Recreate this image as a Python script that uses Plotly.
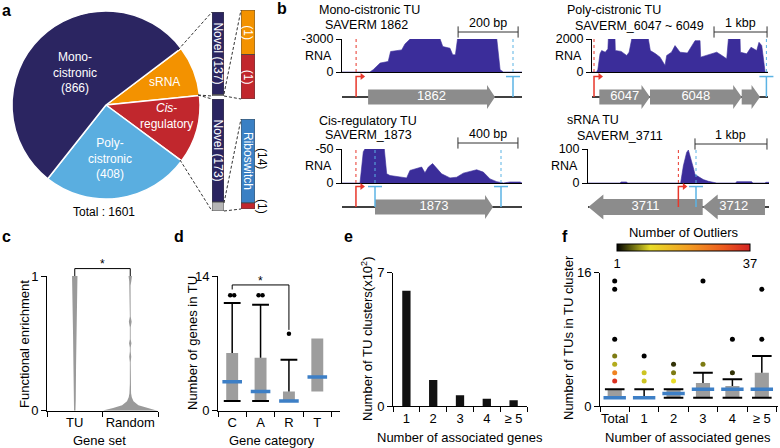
import plotly.graph_objects as go

W, H = 780, 448
FONT = "Liberation Sans, Arial, sans-serif"

NAVY = "#2b2561"
ORANGE = "#f39200"
RED = "#c1272d"
LBLUE = "#5aaee0"
RIBO = "#3a80c4"
LGREY = "#b5b5b5"
COV = "#3b2d9a"
TSS_C = "#e8372b"
TTS_C = "#5bb3e4"
GENE_C = "#8c8c8c"
BOX_C = "#9d9d9d"
MED_C = "#3d7fc6"
VIO_C = "#9a9a9a"

# ======================= DATA =======================
# panel a
pie_labels = ["sRNA", "Cis-regulatory", "Poly-cistronic", "Mono-cistronic"]
pie_values = [139, 188, 408, 866]
srna_split = [137, 2]
srna_annot = [1, 1]
cis_split = [173, 15]
cis_annot = [14, 1]

# panel b : coverage profiles (bp, reads)
b1_title = ["Mono-cistronic TU", "SAVERM 1862"]
b1_span, b1_top = 600, -3000
b1_pos = [0, 93, 104, 127, 154, 162, 199, 210, 227, 327, 336, 360, 369, 378, 385, 516, 527, 538, 600]
b1_cov = [0, 0, -210, -810, -960, -1860, -2010, -2550, -3000, -3000, -2310, -2160, -1560, -1560, -3000, -3000, -210, 0, 0]
b1_tss, b1_tts = 47, [570]
b1_gene_start, b1_gene_end, b1_gene_name = [87], [510], ["1862"]
b1_scalebar = [387, 200, "200 bp"]

b2_title = ["Poly-cistronic TU", "SAVERM_6047 ~ 6049"]
b2_span, b2_top = 3320, 2000
b2_pos = [0, 88, 110, 151, 182, 250, 300, 308, 434, 440, 550, 654, 700, 749, 1063, 1100, 1200, 1283, 1378, 1409,
          1500, 1566, 1661, 1800, 1944, 2038, 2050, 2164, 2250, 2353, 2450, 2541, 2573, 2793, 2800, 2919, 3000, 3107,
          3150, 3202, 3250, 3265, 3320]
b2_cov = [0, 0, 150, 1100, 1300, 1200, 1400, 2000, 2000, 1300, 1250, 1000, 1200, 2000, 2000, 1300, 1100, 900, 400, 1000,
          1200, 1600, 1200, 1150, 1900, 1900, 900, 1000, 1100, 1200, 1000, 800, 2000, 2000, 1200, 1100, 1500, 1300,
          1800, 1600, 400, 0, 0]
b2_tss, b2_tts = 38, [3290]
b2_gene_start, b2_gene_end, b2_gene_name = [138, 1094, 2824], [1094, 2824, 3170], ["6047", "6048", ""]
b2_scalebar = [2302, 1000, "1 kbp"]

b3_title = ["Cis-regulatory TU", "SAVERM_1873"]
b3_span, b3_top = 1200, -50
b3_pos = [0, 120, 142, 153, 282, 298, 320, 364, 431, 453, 487, 531, 553, 576, 604, 631, 664, 720, 764, 809, 853, 898,
          942, 987, 1031, 1076, 1120, 1187, 1200]
b3_cov = [0, 0, -46, -50, -50, -13.5, -11, -9.5, -7.5, -18.5, -21, -23.5, -15, -23.5, -28.5, -21, -13.5, -7.5, -8.5,
          -14.5, -17.5, -19.5, -16, -6, -2, 0, -1.5, -1.5, 0]
b3_tss, b3_tts = 93, [220, 1060]
b3_gene_start, b3_gene_end, b3_gene_name = [220], [1007], ["1873"]
b3_scalebar = [773, 400, "400 bp"]

b4_title = ["sRNA TU", "SAVERM_3711"]
b4_span, b4_top = 2514, 100
b4_pos = [0, 28, 40, 74, 90, 444, 460, 537, 550, 1287, 1324, 1370, 1394, 1426, 1463, 1486, 1532, 1602, 1671, 1741,
          1787, 2050, 2065, 2273, 2290, 2459, 2470, 2514]
b4_cov = [0, 0, 2, 2, 0, 0, 3, 3, 0, 0, 50, 90, 97, 75, 45, 25, 18, 10, 5, 3, 0, 0, 4, 4, 0, 0, 2, 2]
b4_tss, b4_tts = 1255, [1500]
b4_gene_start, b4_gene_end, b4_gene_name = [1593, 2458], [5, 1593], ["3711", "3712"]
b4_scalebar = [1486, 1000, "1 kbp"]

# panel c : violin density profiles
c_sets = ["TU", "Random"]
tu_levels = [0, 0.08, 0.33, 0.57, 0.82, 1.0]
tu_density = [0.026, 0.037, 0.048, 0.063, 0.081, 0.10]
rand_levels = [0, 0.005, 0.02, 0.04, 0.07, 0.1, 0.13, 0.2, 0.36, 0.4, 0.44, 0.47, 0.5, 0.53, 0.62, 0.66, 0.7, 0.93,
               0.96, 1.0]
rand_density = [1.0, 0.93, 0.63, 0.3, 0.12, 0.056, 0.03, 0.015, 0.015, 0.037, 0.015, 0.015, 0.044, 0.015, 0.015,
                0.052, 0.015, 0.011, 0.037, 0.063]

# panel d : box stats
d_cats = ["C", "A", "R", "T"]
d_q1 = [1, 1, 1, 2]
d_med = [3, 2, 1, 3.5]
d_q3 = [6, 5.5, 2, 7.5]
d_lower = [1, 1, 1, None]
d_upper = [11.2, 11, 5.3, None]
d_out_cat = [0, 0, 1, 1, 2]
d_out_val = [12, 12, 12, 12, 8]

# panel e
e_cats = ["1", "2", "3", "4", "≥ 5"]
e_vals = [6.05, 1.36, 0.56, 0.38, 0.30]

# panel f
f_cats = ["Total", "1", "2", "3", "4", "≥ 5"]
f_q1 = [1, 1, 1, 1, 1, 1]
f_med = [1, 1, 1.5, 2, 2, 2]
f_q3 = [2, 1, 2, 2.75, 2.4, 4]
f_lower = [1, 1, 1, 1, 1, 1]
f_upper = [2, 2, 2, 4, 3.2, 6]
f_out_cat = [0, 0, 0, 0, 0, 0, 0, 1, 1, 1, 2, 2, 2, 3, 3, 4, 4, 5, 5]
f_out_val = [15, 14, 8, 6, 5, 4, 3, 6, 4, 3, 5, 4, 3, 15, 5, 8, 4, 14, 8]
f_out_cnt = [1, 1, 1, 6, 8, 24, 35, 1, 9, 9, 3, 6, 10, 1, 6, 1, 3, 1, 1]
OUT_SCALE = [[0, "#000000"], [0.12, "#6b6b10"], [0.25, "#e8dc28"], [0.55, "#f29a22"], [0.8, "#ec5a1e"],
             [1, "#d42323"]]

# ======================= FIGURE =======================
fig = go.Figure()
axes, ann, shapes = {}, [], []
_n = [0]


def PX(p):
    return p / W


def PY(p):
    return 1 - p / H


BASE_AX = dict(showgrid=False, zeroline=False, showline=False, ticks="", showticklabels=False,
               fixedrange=True, linecolor="black", linewidth=1, tickcolor="black", tickwidth=1,
               ticklen=5, tickfont=dict(family=FONT, size=13, color="black"))


def new_axes(x0, x1, yt, yb, xo=None, yo=None):
    _n[0] += 1
    s = "" if _n[0] == 1 else str(_n[0])
    xa = dict(BASE_AX, domain=[PX(x0), PX(x1)], anchor="y" + s)
    ya = dict(BASE_AX, domain=[PY(yb), PY(yt)], anchor="x" + s)
    xa.update(xo or {})
    ya.update(yo or {})
    axes["xaxis" + s] = xa
    axes["yaxis" + s] = ya
    return "x" + s, "y" + s


def label(x, y, text, size=13, color="black", xref="paper", yref="paper", xanchor="center",
          yanchor="middle", angle=0, xshift=0, yshift=0):
    if xref == "paper":
        x = PX(x)
    if yref == "paper":
        y = PY(y)
    ann.append(dict(x=x, y=y, xref=xref, yref=yref, text=text, showarrow=False,
                    font=dict(family=FONT, size=size, color=color), xanchor=xanchor,
                    yanchor=yanchor, textangle=angle, xshift=xshift, yshift=yshift))


def dline(x0, y0, x1, y1):
    shapes.append(dict(type="line", xref="paper", yref="paper", x0=PX(x0), y0=PY(y0), x1=PX(x1), y1=PY(y1),
                       line=dict(color="#333", width=1, dash="3px,2px")))


# ---------- panel labels ----------
for t, x, y in [("a", 6, 10), ("b", 282, 9), ("c", 6, 237), ("d", 179, 237), ("e", 348, 236), ("f", 565, 236)]:
    label(x, y, f"<b>{t}</b>", 16)

# ---------- panel a ----------
fig.add_trace(go.Pie(values=pie_values, labels=pie_labels, sort=False, direction="clockwise", rotation=53,
                     marker=dict(colors=[ORANGE, RED, LBLUE, NAVY], line=dict(color="white", width=1.5)),
                     textinfo="none", hoverinfo="label+value",
                     domain=dict(x=[PX(12), PX(200)], y=[PY(199), PY(11)])))
label(75, 72, f"Mono-<br>cistronic<br>({pie_values[3]})", 12, "white")
label(164, 82, "sRNA", 12, "white")
label(166, 116, "<i>Cis</i>-<br>regulatory", 12, "white")
label(110, 158, f"Poly-<br>cistronic<br>({pie_values[2]})", 12, "white")
label(104, 212, f"Total : {sum(pie_values)}", 12)


def stacked_bar(x0, x1, yt, yb, parts, colors):
    xa, ya = new_axes(x0, x1, yt, yb, xo=dict(range=[-0.5, 0.5]), yo=dict(range=[sum(parts), 0]))
    base = 0
    for v, c in zip(parts, colors):
        fig.add_trace(go.Bar(x=[0], y=[v], base=[base], width=1,
                             marker=dict(color=c, line=dict(color="#444", width=0.8)),
                             xaxis=xa, yaxis=ya, hoverinfo="y"))
        base += v
    return xa, ya


xa1, ya1 = stacked_bar(212, 224, 12, 96, srna_split, [NAVY, LGREY])
label(0, srna_split[0] / 2, f"Novel ({srna_split[0]})", 12, "white", xa1, ya1, angle=90)
xa2, ya2 = stacked_bar(212, 224, 99, 211, cis_split, [NAVY, LGREY])
label(0, cis_split[0] / 2, f"Novel ({cis_split[0]})", 12, "white", xa2, ya2, angle=90)
xa3, ya3 = stacked_bar(241, 255, 10, 99, srna_annot, [ORANGE, RED])
label(0, srna_annot[0] / 2, f"({srna_annot[0]})", 12, "white", xa3, ya3, angle=90)
label(0, srna_annot[0] + srna_annot[1] / 2, f"({srna_annot[1]})", 12, "white", xa3, ya3, angle=90)
xa4, ya4 = stacked_bar(241, 255, 119, 209, cis_annot, [RIBO, RED])
label(0, cis_annot[0] / 2, "Riboswitch", 12, "white", xa4, ya4, angle=90)
label(0.5, cis_annot[0] / 2 - 0.5, f"({cis_annot[0]})", 12, "black", xa4, ya4, angle=90, xshift=7)
label(0.5, cis_annot[0] + cis_annot[1] / 2, f"({cis_annot[1]})", 12, "black", xa4, ya4, angle=90, xshift=7)

for seg in [(178, 50, 212, 12), (198, 95, 212, 96), (198, 95, 212, 99), (180, 160, 212, 211),
            (224, 94, 241, 10), (224, 96, 241, 99), (224, 203, 241, 119), (224, 211, 241, 209)]:
    dline(*seg)

# ---------- panel b ----------
tracks = [
    dict(pos=b1_pos, cov=b1_cov, span=b1_span, top=b1_top, tss=b1_tss, tts=b1_tts, gs=b1_gene_start,
         ge=b1_gene_end, gn=b1_gene_name, sb=b1_scalebar, title=b1_title,
         L=dict(x0=342, x1=522, yt=39, yb=72, base=97, t1=(317, 10), t2=(323, 25), sby=32, body=15, head=24, hl=8)),
    dict(pos=b2_pos, cov=b2_cov, span=b2_span, top=b2_top, tss=b2_tss, tts=b2_tts, gs=b2_gene_start,
         ge=b2_gene_end, gn=b2_gene_name, sb=b2_scalebar, title=b2_title,
         L=dict(x0=592, x1=768, yt=39, yb=72, base=97, t1=(565, 10), t2=(573, 26), sby=32, body=15, head=24, hl=8.5)),
    dict(pos=b3_pos, cov=b3_cov, span=b3_span, top=b3_top, tss=b3_tss, tts=b3_tts, gs=b3_gene_start,
         ge=b3_gene_end, gn=b3_gene_name, sb=b3_scalebar, title=b3_title,
         L=dict(x0=342, x1=522, yt=149, yb=183, base=207, t1=(317, 121), t2=(323, 135), sby=143, body=15, head=24,
                hl=8)),
    dict(pos=b4_pos, cov=b4_cov, span=b4_span, top=b4_top, tss=b4_tss, tts=b4_tts, gs=b4_gene_start,
         ge=b4_gene_end, gn=b4_gene_name, sb=b4_scalebar, title=b4_title,
         L=dict(x0=588, x1=769, yt=149, yb=183, base=207, t1=(565, 120), t2=(575, 136), sby=144, body=16, head=25,
                hl=15)),
]


def gene_poly(s, e, hl, bh, hh):
    d = 1 if e > s else -1
    hb = e - d * hl
    return [s, hb, hb, e, hb, hb, s, s], [-bh, -bh, -hh, 0, hh, bh, bh, -bh]


for T in tracks:
    L = T["L"]
    top = T["top"]
    xa, ya = new_axes(L["x0"], L["x1"], L["yt"], L["yb"],
                      xo=dict(range=[0, T["span"]], showline=True),
                      yo=dict(range=[0, top], showline=True, ticks="outside", showticklabels=True,
                              tickvals=[0, top], ticktext=["0", str(top)],
                              tickfont=dict(family=FONT, size=12.5, color="black")))
    fig.add_trace(go.Scatter(x=T["pos"], y=T["cov"], mode="lines", fill="tozeroy",
                             line=dict(color=COV, width=0.6), fillcolor=COV, xaxis=xa, yaxis=ya, hoverinfo="skip"))
    fig.add_trace(go.Scatter(x=[T["tss"], T["tss"]], y=[0, top], mode="lines",
                             line=dict(color=TSS_C, width=1, dash="dot"), xaxis=xa, yaxis=ya, hoverinfo="skip"))
    tx, ty = [], []
    for t in T["tts"]:
        tx += [t, t, None]
        ty += [0, top, None]
    fig.add_trace(go.Scatter(x=tx, y=ty, mode="lines", line=dict(color=TTS_C, width=1, dash="dot"),
                             xaxis=xa, yaxis=ya, hoverinfo="skip"))
    # scale bar in its own thin strip of axes
    s0, slen, stxt = T["sb"]
    xs_, ys_ = new_axes(L["x0"], L["x1"], L["sby"] - 6, L["sby"] + 6,
                        xo=dict(range=[0, T["span"]]), yo=dict(range=[-1, 1]))
    fig.add_trace(go.Scatter(x=[s0, s0 + slen], y=[0, 0], mode="lines+markers",
                             line=dict(color="#333", width=1),
                             marker=dict(symbol="line-ns", size=8, line=dict(color="#333", width=1)),
                             cliponaxis=False, xaxis=xs_, yaxis=ys_, hoverinfo="skip"))
    label(s0 + slen / 2, L["sby"] - 9, stxt, 12.5, xref=xs_)
    label(L["t1"][0], L["t1"][1], T["title"][0], 12.5, xanchor="left")
    label(L["t2"][0], L["t2"][1], T["title"][1], 12.5, xanchor="left")
    label(L["x0"] - 8, (L["yt"] + L["yb"]) / 2, "RNA", 12.5, xanchor="right")

    g = 22
    xg, yg = new_axes(L["x0"], L["x1"], L["base"] - g, L["base"] + g,
                      xo=dict(range=[0, T["span"]]), yo=dict(range=[-1, 1]))
    bpp = T["span"] / (L["x1"] - L["x0"])
    fig.add_trace(go.Scatter(x=[0, T["span"]], y=[0, 0], mode="lines", line=dict(color="black", width=1.5),
                             xaxis=xg, yaxis=yg, hoverinfo="skip"))
    gx, gy = [], []
    for s, e in zip(T["gs"], T["ge"]):
        xs, ys = gene_poly(s, e, L["hl"] * bpp, L["body"] / 2 / g, L["head"] / 2 / g)
        gx += xs + [None]
        gy += ys + [None]
    fig.add_trace(go.Scatter(x=gx, y=gy, mode="lines", fill="toself", fillcolor=GENE_C,
                             line=dict(width=0, color=GENE_C), xaxis=xg, yaxis=yg, hoverinfo="skip"))
    named = [(s, e, n) for s, e, n in zip(T["gs"], T["ge"], T["gn"]) if n]
    fig.add_trace(go.Scatter(x=[(s + e) / 2 for s, e, n in named], y=[0] * len(named),
                             mode="text", text=[n for s, e, n in named],
                             textfont=dict(family=FONT, size=13, color="white"),
                             xaxis=xg, yaxis=yg, hoverinfo="skip"))
    v = 0.93
    arm = 6 * bpp
    tss = T["tss"]
    fig.add_trace(go.Scatter(x=[tss, tss, tss + arm], y=[0, v, v], mode="lines",
                             line=dict(color=TSS_C, width=1.5), xaxis=xg, yaxis=yg, hoverinfo="skip",
                             cliponaxis=False))
    fig.add_trace(go.Scatter(x=[tss + arm], y=[v], mode="markers",
                             marker=dict(symbol="triangle-right", size=6, color=TSS_C),
                             xaxis=xg, yaxis=yg, hoverinfo="skip", cliponaxis=False))
    kx, ky = [], []
    for t in T["tts"]:
        kx += [t, t, None]
        ky += [0, v, None]
    fig.add_trace(go.Scatter(x=kx, y=ky, mode="lines", line=dict(color=TTS_C, width=1.5),
                             xaxis=xg, yaxis=yg, hoverinfo="skip", cliponaxis=False))
    fig.add_trace(go.Scatter(x=T["tts"], y=[v] * len(T["tts"]), mode="markers",
                             marker=dict(symbol="line-ew", size=10, line=dict(color=TTS_C, width=1.5)),
                             xaxis=xg, yaxis=yg, hoverinfo="skip", cliponaxis=False))

# ---------- shared helpers for c-f ----------
MINOR = dict(ticks="outside", ticklen=5, tickcolor="black", tickwidth=1, tick0=-0.5, dtick=1)


def cat_x(rng, cats):
    return dict(range=rng, showline=True, showticklabels=True, tickmode="array",
                tickvals=list(range(len(cats))), ticktext=cats, minor=MINOR)


def val_y(rng, vals):
    return dict(range=rng, showline=True, ticks="outside", showticklabels=True, tickmode="array", tickvals=vals)


def bracket_axes(x0, x1, yt, yb, xrng, ymax, top_px):
    # invisible overlay axes sharing the value scale, extended upward to top_px
    ext = ymax * (yb - top_px) / (yb - yt)
    return new_axes(x0, x1, top_px, yb, xo=dict(range=xrng), yo=dict(range=[0, ext]))


# ---------- panel c ----------
xc, yc = new_axes(47, 158, 276, 410.7, xo=cat_x([-0.5, 1.5], c_sets), yo=val_y([0, 1], [0, 1]))
VW = 0.49
for i, (lv, dn) in enumerate([(tu_levels, tu_density), (rand_levels, rand_density)]):
    xs = [i - VW * d for d in dn] + [i + VW * d for d in reversed(dn)]
    ys = list(lv) + list(reversed(lv))
    fig.add_trace(go.Scatter(x=xs, y=ys, mode="lines", fill="toself", fillcolor=VIO_C,
                             line=dict(width=0, color=VIO_C), xaxis=xc, yaxis=yc, hoverinfo="skip"))
xcb, ycb = bracket_axes(47, 158, 276, 410.7, [-0.5, 1.5], 1, 255)
fig.add_trace(go.Scatter(x=[0, 0, 1, 1], y=[1.0, 1.055, 1.055, 1.0], mode="lines",
                         line=dict(color="black", width=1), xaxis=xcb, yaxis=ycb, hoverinfo="skip"))
label(0.5, 264, "*", 12, xref=xc)
label(24, 344, "Functional enrichment", 13, angle=-90)
label(100, 440, "Gene set", 13)


# ---------- box helper ----------
def boxes(xa, ya, q1, med, q3, lo, hi, bw, cap, medw):
    n = len(q1)
    fig.add_trace(go.Bar(x=list(range(n)), y=[b - a for a, b in zip(q1, q3)], base=q1, width=bw,
                         marker=dict(color=BOX_C, line=dict(width=0)), xaxis=xa, yaxis=ya, hoverinfo="skip"))
    wx, wy, cx, cy = [], [], [], []
    for i in range(n):
        if hi[i] is not None:
            wx += [i, i, None]
            wy += [q3[i], hi[i], None]
            cx += [i, i]
            cy += [hi[i], lo[i]]
    fig.add_trace(go.Scatter(x=wx, y=wy, mode="lines", line=dict(color="black", width=1.5),
                             xaxis=xa, yaxis=ya, hoverinfo="skip"))
    fig.add_trace(go.Scatter(x=cx, y=cy, mode="markers",
                             marker=dict(symbol="line-ew", size=cap, line=dict(color="black", width=2)),
                             xaxis=xa, yaxis=ya, hoverinfo="skip"))
    fig.add_trace(go.Scatter(x=list(range(n)), y=med, mode="markers",
                             marker=dict(symbol="line-ew", size=medw, line=dict(color=MED_C, width=3.5)),
                             xaxis=xa, yaxis=ya, hoverinfo="skip"))


def spread(cats, vals, step):
    out = []
    for i, (c, v) in enumerate(zip(cats, vals)):
        same = [j for j in range(len(cats)) if cats[j] == c and vals[j] == v]
        k = same.index(i)
        out.append(c + (k - (len(same) - 1) / 2) * step)
    return out


# ---------- panel d ----------
xd, yd = new_axes(218, 340, 276, 410.7, xo=cat_x([-0.5, 3.8], d_cats), yo=val_y([0, 14], [0, 14]))
boxes(xd, yd, d_q1, d_med, d_q3, d_lower, d_upper, 0.42, 12, 14)
fig.add_trace(go.Scatter(x=spread(d_out_cat, d_out_val, 0.14), y=d_out_val, mode="markers",
                         marker=dict(color="black", size=4.5), xaxis=xd, yaxis=yd, hoverinfo="skip"))
xdb, ydb = bracket_axes(218, 340, 276, 410.7, [-0.5, 3.8], 14, 255)
fig.add_trace(go.Scatter(x=[0, 0, 2, 2], y=[12.6, 13.07, 13.07, 8.4], mode="lines",
                         line=dict(color="black", width=1), xaxis=xdb, yaxis=ydb, hoverinfo="skip"))
label(1, 281, "*", 12, xref=xd)
label(192, 343, "Number of genes in TU", 13, angle=-90)
label(272, 440, "Gene category", 13)

# ---------- panel e ----------
xe, ye = new_axes(393, 527, 272.7, 406, xo=cat_x([-0.5, 4.5], e_cats), yo=val_y([0, 7], [0, 7]))
fig.add_trace(go.Bar(x=list(range(len(e_vals))), y=e_vals, width=0.31, marker=dict(color="#111111", line=dict(width=0)),
                     xaxis=xe, yaxis=ye, hoverinfo="y"))
label(367, 339, "Number of TU clusters(x10<sup>2</sup>)", 13, angle=-90)
label(460, 437, "Number of associated genes", 13)

# ---------- panel f ----------
xf, yf = new_axes(600, 778, 272.7, 406, xo=cat_x([-0.5, 5.55], f_cats), yo=val_y([0, 16], [0, 16]))
boxes(xf, yf, f_q1, f_med, f_q3, f_lower, f_upper, 0.48, 14, 16)
fig.add_trace(go.Scatter(x=f_out_cat, y=f_out_val, mode="markers",
                         marker=dict(color=f_out_cnt, colorscale=OUT_SCALE, cmin=1, cmax=37, size=5,
                                     showscale=True,
                                     colorbar=dict(orientation="h", x=PX(683.5), xanchor="center",
                                                   y=PY(229), yanchor="top", len=133, lenmode="pixels",
                                                   thickness=7, thicknessmode="pixels", xpad=0, ypad=0,
                                                   outlinewidth=1, outlinecolor="black", tickvals=[1, 37],
                                                   ticks="", tickfont=dict(family=FONT, size=13, color="black"),
                                                   title=dict(text="Number of Outliers", side="top",
                                                              font=dict(family=FONT, size=13, color="black")))),
                         xaxis=xf, yaxis=yf, hoverinfo="skip"))
label(568, 338, "Number of TUs in TU cluster", 13, angle=-90)
label(688, 437, "Number of associated genes", 13)

fig.update_layout(width=W, height=H, margin=dict(l=0, r=0, t=0, b=0, autoexpand=False), paper_bgcolor="white",
                  plot_bgcolor="rgba(0,0,0,0)", showlegend=False, barmode="overlay",
                  font=dict(family=FONT, size=13, color="black"), annotations=ann, shapes=shapes,
                  hovermode=False, **axes)

fig.write_html("out.html", config={"displayModeBar": False, "staticPlot": True},
               post_script="document.body.style.margin='0px';")
